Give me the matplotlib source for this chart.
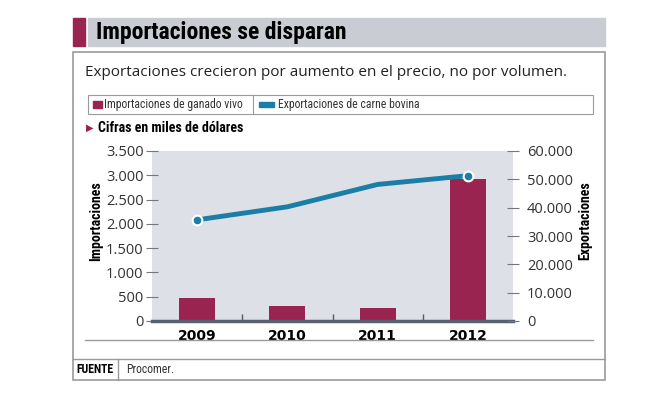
import matplotlib
matplotlib.use("Agg")
from matplotlib import pyplot as plt
from matplotlib.patches import Rectangle
from matplotlib.lines import Line2D
from matplotlib.ticker import FuncFormatter

years = ["2009", "2010", "2011", "2012"]
importaciones = [470, 310, 270, 2930]
exportaciones = [35700, 40300, 48200, 51300]

MAROON = "#9a2450"
BLUE = "#1b7ea6"
W, H = 653, 398
COND = ['Roboto Condensed', 'DejaVu Sans']
WIDE = ['Open Sans', 'DejaVu Sans']

plt.rcParams['font.family'] = COND


def fx(x):
    return x / W


def fy(y):
    return 1 - y / H


def miles(v, pos):
    return f"{int(v):,}".replace(",", ".")


fig = plt.figure(figsize=(6.53, 3.98), dpi=100)

# title band
fig.patches.append(Rectangle((fx(73), fy(46)), fx(12), 28 / H, transform=fig.transFigure,
                             color=MAROON, zorder=0))
fig.patches.append(Rectangle((fx(88), fy(46)), fx(605 - 88), 28 / H, transform=fig.transFigure,
                             color="#c9ccd2", zorder=0))
fig.text(fx(96), fy(33), "Importaciones se disparan", fontsize=17, fontweight="bold",
         va="center", ha="left")

# outer box
fig.patches.append(Rectangle((fx(73), fy(380)), fx(605 - 73), (380 - 52) / H,
                             transform=fig.transFigure, fill=False, ec="#9a9a9a", lw=1.2))
fig.text(fx(85), fy(73), "Exportaciones crecieron por aumento en el precio, no por volumen.",
         fontsize=11, family=WIDE, va="center", color="#222222")

# legend box
fig.patches.append(Rectangle((fx(88), fy(114)), fx(593 - 88), 19 / H,
                             transform=fig.transFigure, fill=False, ec="#9a9a9a", lw=0.8))
fig.lines.append(Line2D([fx(253), fx(253)], [fy(114), fy(95)], transform=fig.transFigure,
                        color="#9a9a9a", lw=0.8))
fig.patches.append(Rectangle((fx(93), fy(108)), fx(9), 7 / H, transform=fig.transFigure,
                             color=MAROON))
fig.text(fx(104), fy(104.5), "Importaciones de ganado vivo", fontsize=8.5, va="center",
         color="#333333")
fig.patches.append(Rectangle((fx(259), fy(107)), fx(15), 5 / H, transform=fig.transFigure,
                             color=BLUE))
fig.text(fx(278), fy(104.5), "Exportaciones de carne bovina", fontsize=8.5, va="center",
         color="#333333")

fig.text(fx(86), fy(128), "\u25B6", fontsize=7, color=MAROON, va="center",
         family=['DejaVu Sans'])
fig.text(fx(98), fy(128), "Cifras en miles de dólares", fontsize=10, fontweight="bold",
         va="center")

# chart
ax = fig.add_axes([fx(152), fy(321), fx(513 - 152), (321 - 151) / H])
ax.set_facecolor("#dde0e6")
x = range(len(years))
ax.bar(x, importaciones, width=0.4, color=MAROON, zorder=2)
ax.set_xlim(-0.5, 3.5)
ax.set_ylim(0, 3500)
ax.set_yticks(range(0, 3501, 500))
ax.yaxis.set_major_formatter(FuncFormatter(miles))
ax.set_xticks(list(x))
ax.set_xticklabels(years, fontsize=10, fontweight="bold", family=['DejaVu Sans'])
ax.set_xticks([0.5, 1.5, 2.5], minor=True)
ax.tick_params(axis="x", which="major", length=0, pad=6)
ax.tick_params(axis="x", which="minor", direction="in", length=5, color="#555c66", width=1)
ax.tick_params(axis="y", direction="inout", length=8, color="#777777", labelsize=10.5,
               labelcolor="#333333", pad=2)
for lab in ax.get_yticklabels():
    lab.set_family(WIDE)
for s in ["left", "right", "top"]:
    ax.spines[s].set_visible(False)
ax.spines["bottom"].set_color("#566070")
ax.spines["bottom"].set_linewidth(2.5)

ax2 = ax.twinx()
ax2.set_ylim(0, 60000)
ax2.set_yticks(range(0, 60001, 10000))
ax2.yaxis.set_major_formatter(FuncFormatter(miles))
ax2.tick_params(axis="y", direction="inout", length=8, color="#777777", labelsize=10.5,
                labelcolor="#333333", pad=6)
for lab in ax2.get_yticklabels():
    lab.set_family(WIDE)
for s in ["left", "right", "top", "bottom"]:
    ax2.spines[s].set_visible(False)
ax2.plot(list(x), exportaciones, color=BLUE, lw=3.5, solid_capstyle="round", zorder=3)
ax2.plot([0, 3], [exportaciones[0], exportaciones[3]], "o", color=BLUE, ms=7,
         mec="white", mew=1.5, zorder=4)

fig.text(fx(96), fy(221), "Importaciones", rotation=90, fontsize=10, fontweight="bold",
         va="center", ha="center")
fig.text(fx(585), fy(221), "Exportaciones", rotation=90, fontsize=10, fontweight="bold",
         va="center", ha="center")

# lower lines and footer
fig.lines.append(Line2D([fx(85), fx(593)], [fy(340), fy(340)], transform=fig.transFigure,
                        color="#9a9a9a", lw=1))
fig.lines.append(Line2D([fx(73), fx(605)], [fy(359), fy(359)], transform=fig.transFigure,
                        color="#9a9a9a", lw=1))
fig.lines.append(Line2D([fx(118), fx(118)], [fy(380), fy(359)], transform=fig.transFigure,
                        color="#9a9a9a", lw=1))
fig.text(fx(76), fy(369.5), "FUENTE", fontsize=8.5, fontweight="bold", va="center")
fig.text(fx(126), fy(369.5), "Procomer.", fontsize=8.5, va="center", color="#333333")

fig.savefig("out.png", dpi=100, facecolor="white")
